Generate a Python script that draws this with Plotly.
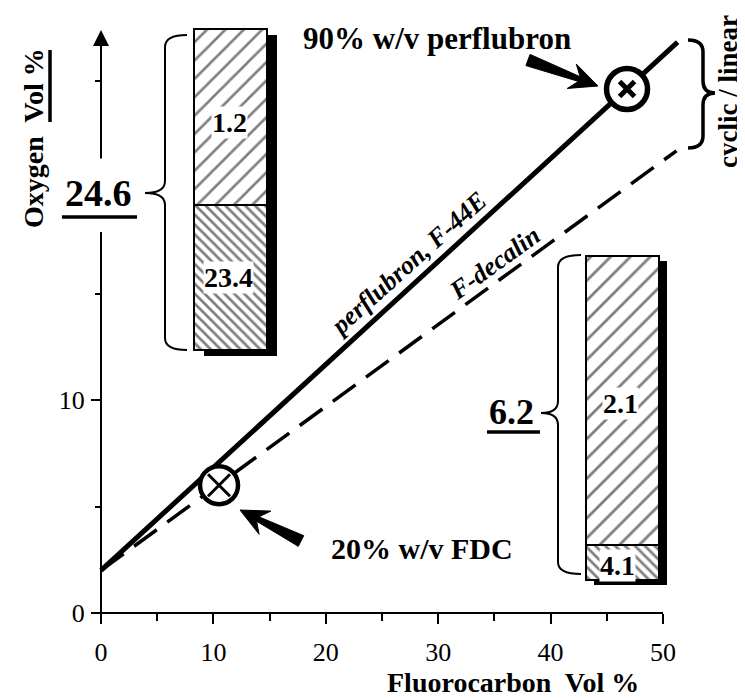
import math
import plotly.graph_objects as go

# ---------------- data ----------------
fc_perflubron = [0.0, 51.3]      # Fluorocarbon Vol %
o2_perflubron = [2.0, 26.8]      # Oxygen Vol % (perflubron, F-44E)
fc_decalin = [0.0, 51.2]
o2_decalin = [2.0, 21.7]         # Oxygen Vol % (F-decalin)
point_labels = ["90% w/v perflubron", "20% w/v FDC"]
point_fc = [46.8, 10.5]
point_o2 = [24.6, 6.0]
perflubron_parts = [23.4, 1.2]   # lower, upper segment labels
perflubron_total = 24.6
fdc_parts = [4.1, 2.1]
fdc_total = 6.2
x_major = [0, 10, 20, 30, 40, 50]
x_minor = [5, 15, 25, 35, 45]
y_major = [0, 10]
y_minor = [5, 15, 25]

# ---------------- pixel helpers (layout only) ----------------
# page has an 8px body margin: figure occupies screen pixels 8..745 / 8..698
OFF = 8
W, H = 745 - OFF, 698 - OFF
X0, SX = 101.0, 11.24
Y0, SY = 613.0, 21.3


def dx(px):
    return (px - X0) / SX


def dy(py):
    return (Y0 - py) / SY


def pt(px, py):
    return f"{dx(px):.4f},{dy(py):.4f}"


SERIF = "Liberation Serif, Times New Roman, serif"
BLACK = "black"

fig = go.Figure()

# ---------------- schematic bars ----------------
def add_bar(xl, xr, ytop, ysplit, ybot, sh_dx, sh_dy, up_size, low_size):
    xc = dx((xl + xr) / 2)
    w = (xr - xl) / SX
    fig.add_trace(go.Bar(x=[dx((xl + xr) / 2 + sh_dx)], base=[dy(ybot + sh_dy)],
                         y=[dy(ytop + sh_dy) - dy(ybot + sh_dy)], width=[w],
                         marker=dict(color=BLACK, line=dict(width=0)),
                         showlegend=False, hoverinfo="skip"))
    fig.add_trace(go.Bar(x=[xc], base=[dy(ybot)], y=[dy(ysplit) - dy(ybot)], width=[w],
                         marker=dict(color=BLACK, line=dict(color=BLACK, width=2),
                                     pattern=dict(shape="\\", size=low_size, solidity=0.38,
                                                  bgcolor="white", fgcolor=BLACK)),
                         showlegend=False, hoverinfo="skip"))
    fig.add_trace(go.Bar(x=[xc], base=[dy(ysplit)], y=[dy(ytop) - dy(ysplit)], width=[w],
                         marker=dict(color=BLACK, line=dict(color=BLACK, width=2),
                                     pattern=dict(shape="/", size=up_size, solidity=0.2,
                                                  bgcolor="white", fgcolor=BLACK)),
                         showlegend=False, hoverinfo="skip"))


add_bar(194, 267, 29, 205, 350, 10, 6, 13, 7)
add_bar(586, 659, 256, 545, 580, 8, 5, 14, 7)

# ---------------- lines ----------------
fig.add_trace(go.Scatter(x=fc_perflubron, y=o2_perflubron, mode="lines",
                         line=dict(color=BLACK, width=5), showlegend=False, hoverinfo="skip"))
fig.add_trace(go.Scatter(x=fc_decalin, y=o2_decalin, mode="lines",
                         line=dict(color=BLACK, width=3.5, dash="28px,13px"),
                         showlegend=False, hoverinfo="skip"))

# circled points
fig.add_trace(go.Scatter(x=point_fc, y=point_o2, mode="markers",
                         marker=dict(symbol="circle", size=[41, 38], color="white", opacity=1,
                                     line=dict(color=BLACK, width=[5.5, 4.5])),
                         showlegend=False, hoverinfo="skip", cliponaxis=False))
fig.add_trace(go.Scatter(x=point_fc, y=point_o2, mode="markers",
                         marker=dict(symbol="x-thin", size=[15, 22], color=BLACK, opacity=1,
                                     line=dict(color=BLACK, width=[5, 3])),
                         showlegend=False, hoverinfo="skip", cliponaxis=False))

# ---------------- shapes ----------------
shapes = []
shapes.append(dict(type="line", xref="x", yref="y", x0=0, y0=0, x1=50, y1=0,
                   line=dict(color=BLACK, width=2)))
shapes.append(dict(type="line", xref="x", yref="y", x0=0, y0=0, x1=0, y1=dy(232),
                   line=dict(color=BLACK, width=2)))


def brace(xend, xv, xtip, y0, ym, y1, r=12):
    return (f"M{pt(xend, y0)} Q{pt(xv, y0)} {pt(xv, y0 + r)} "
            f"L{pt(xv, ym - r)} Q{pt(xv, ym)} {pt(xtip, ym)} "
            f"Q{pt(xv, ym)} {pt(xv, ym + r)} "
            f"L{pt(xv, y1 - r)} Q{pt(xv, y1)} {pt(xend, y1)}")


for (xe, xv, xt, a, m, b, lw) in [(187, 165, 145, 35, 193, 350, 2),
                                   (581, 558, 541, 255, 413, 574, 2),
                                   (688, 703, 715, 40, 93, 148, 3.5)]:
    shapes.append(dict(type="path", xref="x", yref="y", path=brace(xe, xv, xt, a, m, b),
                       line=dict(color=BLACK, width=lw)))


def arrow(tail, tip, head_len, head_half, w_tail, w_head, notch):
    ux, uy = tip[0] - tail[0], tip[1] - tail[1]
    L = math.hypot(ux, uy)
    ux, uy = ux / L, uy / L
    nx, ny = -uy, ux
    bx, by = tip[0] - head_len * ux, tip[1] - head_len * uy
    nnx, nny = tip[0] - notch * ux, tip[1] - notch * uy
    pts = [tip,
           (bx + head_half * nx, by + head_half * ny),
           (nnx + w_head * nx, nny + w_head * ny),
           (tail[0] + w_tail * nx, tail[1] + w_tail * ny),
           (tail[0] - w_tail * nx, tail[1] - w_tail * ny),
           (nnx - w_head * nx, nny - w_head * ny),
           (bx - head_half * nx, by - head_half * ny)]
    return "M" + " L".join(pt(*p) for p in pts) + " Z"


shapes.append(dict(type="path", xref="x", yref="y", fillcolor=BLACK,
                   path=arrow((528, 60), (598, 86), 28, 13, 6, 2.5, 20),
                   line=dict(color=BLACK, width=1)))
shapes.append(dict(type="path", xref="x", yref="y", fillcolor=BLACK,
                   path=arrow((301, 541), (240, 510), 28, 13, 6, 2.5, 20),
                   line=dict(color=BLACK, width=1)))

# underlines
shapes.append(dict(type="line", xref="x", yref="y", x0=dx(62), x1=dx(137), y0=dy(217), y1=dy(217),
                   line=dict(color=BLACK, width=3.5)))
shapes.append(dict(type="line", xref="x", yref="y", x0=dx(487), x1=dx(540), y0=dy(432), y1=dy(432),
                   line=dict(color=BLACK, width=3.5)))
shapes.append(dict(type="line", xref="x", yref="y", x0=dx(50), x1=dx(50), y0=dy(50), y1=dy(122),
                   line=dict(color=BLACK, width=3.5)))

# ---------------- annotations ----------------
ann = []


def text(px, py, s, size, bold=True, italic=False, angle=0, bg=None):
    t = s
    if bold:
        t = f"<b>{t}</b>"
    if italic:
        t = f"<i>{t}</i>"
    d = dict(x=dx(px), y=dy(py), xref="x", yref="y", text=t, showarrow=False,
             font=dict(family=SERIF, size=size, color=BLACK), textangle=angle,
             xanchor="center", yanchor="middle")
    if bg:
        d.update(bgcolor=bg, borderpad=0)
    ann.append(d)


ann.append(dict(x=0, y=dy(30), ax=0, ay=dy(160), xref="x", yref="y", axref="x", ayref="y",
                text="", showarrow=True, arrowhead=2, arrowsize=1.6, arrowwidth=2,
                arrowcolor=BLACK, standoff=0))

text(437, 38, point_labels[0], 31)
text(422, 548, point_labels[1], 30)
text(408, 263, "perflubron, F-44E", 26, italic=True, angle=-42)
text(494, 263, "F-decalin", 26, italic=True, angle=-36)
text(728, 92, "cyclic / linear", 27, angle=-90)
text(33, 138, "Oxygen\u00a0 Vol %", 28, angle=-90)
text(513, 682, "Fluorocarbon\u00a0 Vol %", 28)
text(98, 193, f"{perflubron_total}", 38)
text(511, 412, f"{fdc_total}", 36)
text(229, 122, f"{perflubron_parts[1]}", 28, bg="white")
text(228, 277, f"{perflubron_parts[0]}", 28, bg="white")
text(620, 403, f"{fdc_parts[1]}", 28, bg="white")
text(617, 565, f"{fdc_parts[0]}", 28, bg="white")

fig.update_layout(
    width=W, height=H, margin=dict(l=0, r=0, t=0, b=0),
    paper_bgcolor="white", plot_bgcolor="white",
    barmode="overlay", bargap=0,
    shapes=shapes, annotations=ann, showlegend=False,
    xaxis=dict(domain=[0, 1], range=[dx(OFF), dx(745)], anchor="free", position=(698 - Y0) / H,
               showgrid=False, zeroline=False, showline=False,
               tickmode="array", tickvals=x_major, ticks="outside", ticklen=10, tickwidth=2,
               tickcolor=BLACK, ticklabelstandoff=6,
               minor=dict(tickmode="array", tickvals=x_minor, ticks="outside", ticklen=7,
                          tickwidth=2, tickcolor=BLACK),
               tickfont=dict(family=SERIF, size=26, color=BLACK)),
    yaxis=dict(domain=[0, 1], range=[dy(698), dy(OFF)], anchor="free", position=(X0 - OFF) / W,
               showgrid=False, zeroline=False, showline=False,
               tickmode="array", tickvals=y_major, ticks="outside", ticklen=10, tickwidth=2,
               tickcolor=BLACK, ticklabelstandoff=1,
               minor=dict(tickmode="array", tickvals=y_minor, ticks="outside", ticklen=6,
                          tickwidth=2, tickcolor=BLACK),
               tickfont=dict(family=SERIF, size=26, color=BLACK)),
)

fig.write_html("out.html")
